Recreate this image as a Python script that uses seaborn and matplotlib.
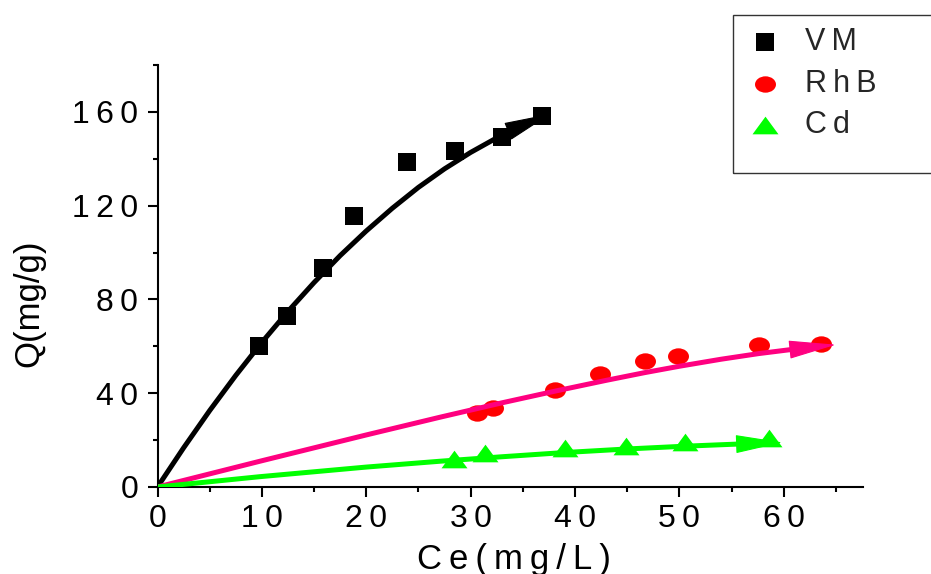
import numpy as np
import matplotlib
matplotlib.use('Agg')
import matplotlib.pyplot as plt
import seaborn as sns
from matplotlib.path import Path
from matplotlib.patches import Rectangle

# ---- data ----
series_names = ['VM', 'RhB', 'Cd']

vm_ce = [9.7, 12.4, 15.9, 18.8, 23.9, 28.5, 33.0, 36.8]
vm_q = [60.0, 73.0, 93.3, 115.8, 138.6, 143.3, 149.3, 158.3]
rhb_ce = [30.6, 32.1, 38.1, 42.4, 46.7, 49.9, 57.6, 63.6]
rhb_q = [31.5, 33.8, 41.2, 48.2, 53.6, 56.0, 60.7, 61.0]
cd_ce = [28.4, 31.4, 39.0, 44.9, 50.5, 58.6]
cd_q = [11.9, 14.4, 16.6, 17.7, 19.4, 20.8]

# fitted curves, last point = arrow tip
vm_fit_ce = [0, 2.5, 5, 7.5, 10, 12.5, 15, 17.5, 20, 22.5, 25, 27.5, 30, 32.5, 35, 37.7]
vm_fit_q = [0, 16.7, 32.6, 47.6, 61.7, 74.9, 87.2, 98.7, 109.2, 118.9, 127.8, 135.7,
            142.7, 148.9, 154.3, 159.2]
rhb_fit_ce = [0, 10, 20, 27.1, 33, 38.1, 43, 46.7, 50, 54, 57.6, 61.2, 65]
rhb_fit_q = [0, 11.2, 22.2, 29.8, 35.9, 40.9, 45.5, 48.8, 51.5, 54.5, 56.9, 58.9, 60.7]
cd_fit_ce = [0, 9.8, 20, 27.1, 33, 39, 44.9, 50.5, 56.1, 59.9]
cd_fit_q = [0, 4.4, 8.5, 11.0, 12.9, 14.7, 16.2, 17.4, 18.4, 19.0]

x_ticks = [0, 10, 20, 30, 40, 50, 60]
x_minor = [5, 15, 25, 35, 45, 55, 65]
y_ticks = [0, 40, 80, 120, 160]
y_minor = [20, 60, 100, 140, 180]
x_label = 'Ce(mg/L)'
y_label = 'Q(mg/g)'

# ---- style ----
sns.set_style('ticks')
plt.rcParams['font.family'] = ['Liberation Sans', 'DejaVu Sans']
TS = '\u2009'  # thin space used for the wide letter spacing


def spaced(s):
    return TS.join(list(str(s)))


fig = plt.figure(figsize=(9.31, 5.74), dpi=100)
ax = fig.add_axes([157.5 / 931, 87 / 574, 705.5 / 931, 422 / 574])

circ = Path.unit_circle()
ellipse = Path(circ.vertices * np.array([1.0, 0.78]), circ.codes)
triangle = Path([(0, 0.68), (-1, -0.68), (1, -0.68), (0, 0.68)],
                [Path.MOVETO, Path.LINETO, Path.LINETO, Path.CLOSEPOLY])

marker_colors = ['#000000', '#FF0000', '#00FF00']
line_colors = ['#000000', '#FF0080', '#00FF00']
markers = ['s', ellipse, triangle]
sizes = [175, 228, 350]
pts = [(vm_ce, vm_q), (rhb_ce, rhb_q), (cd_ce, cd_q)]
fits = [(vm_fit_ce, vm_fit_q), (rhb_fit_ce, rhb_fit_q), (cd_fit_ce, cd_fit_q)]

for name, (xs, ys), mk, s, c in zip(series_names, pts, markers, sizes, marker_colors):
    sns.scatterplot(x=xs, y=ys, marker=mk, s=s, color=c, linewidth=0,
                    ax=ax, label=spaced(name), zorder=2)

for (fx, fy), c in zip(fits, line_colors):
    sns.lineplot(x=fx[:-1], y=fy[:-1], color=c, lw=3.6, ax=ax, sort=False,
                 estimator=None, zorder=3, legend=False)
    ax.annotate('', xy=(fx[-1], fy[-1]), xytext=(fx[-2], fy[-2]),
                arrowprops=dict(arrowstyle='-|>,head_length=1.55,head_width=0.3',
                                color=c, lw=0.8, shrinkA=0, shrinkB=0,
                                mutation_scale=20),
                zorder=4)

ax.set_xlim(0, 67.6)
ax.set_ylim(0, 180)
ax.set_xticks(x_ticks)
ax.set_xticklabels([spaced(v) for v in x_ticks])
ax.set_xticks(x_minor, minor=True)
ax.set_yticks(y_ticks)
ax.set_yticklabels([spaced(v) for v in y_ticks])
ax.set_yticks(y_minor, minor=True)

ax.tick_params(axis='both', which='major', length=7, width=1.5, labelsize=23,
               direction='out', color='black', labelcolor='black')
ax.tick_params(axis='both', which='minor', length=3.5, width=1.5,
               direction='out', color='black')
ax.tick_params(axis='x', which='major', pad=5)
ax.tick_params(axis='y', which='major', pad=7)

sns.despine(ax=ax)
for sp in ['left', 'bottom']:
    ax.spines[sp].set_linewidth(1.5)
    ax.spines[sp].set_color('black')

ax.set_xlabel(spaced(x_label), fontsize=25, color='black')
ax.set_ylabel(y_label, fontsize=25, color='black')
ax.xaxis.set_label_coords(0.505, -0.132)
ax.yaxis.set_label_coords(-0.159, 0.436)

handles, labels = ax.get_legend_handles_labels()
ax.legend(handles, labels, loc='upper left',
          bbox_to_anchor=(750 / 931, 1 - 27 / 574), bbox_transform=fig.transFigure,
          borderpad=0, borderaxespad=0, handlelength=1.0, handletextpad=0.8,
          labelspacing=0.38, frameon=False, fontsize=22)

frame = Rectangle((733 / 931, 1 - 173.3 / 574), 0.4, 158.3 / 574,
                  transform=fig.transFigure, fill=False, edgecolor='#333333', lw=1.0)
fig.add_artist(frame)

fig.savefig('out.png', dpi=100)
